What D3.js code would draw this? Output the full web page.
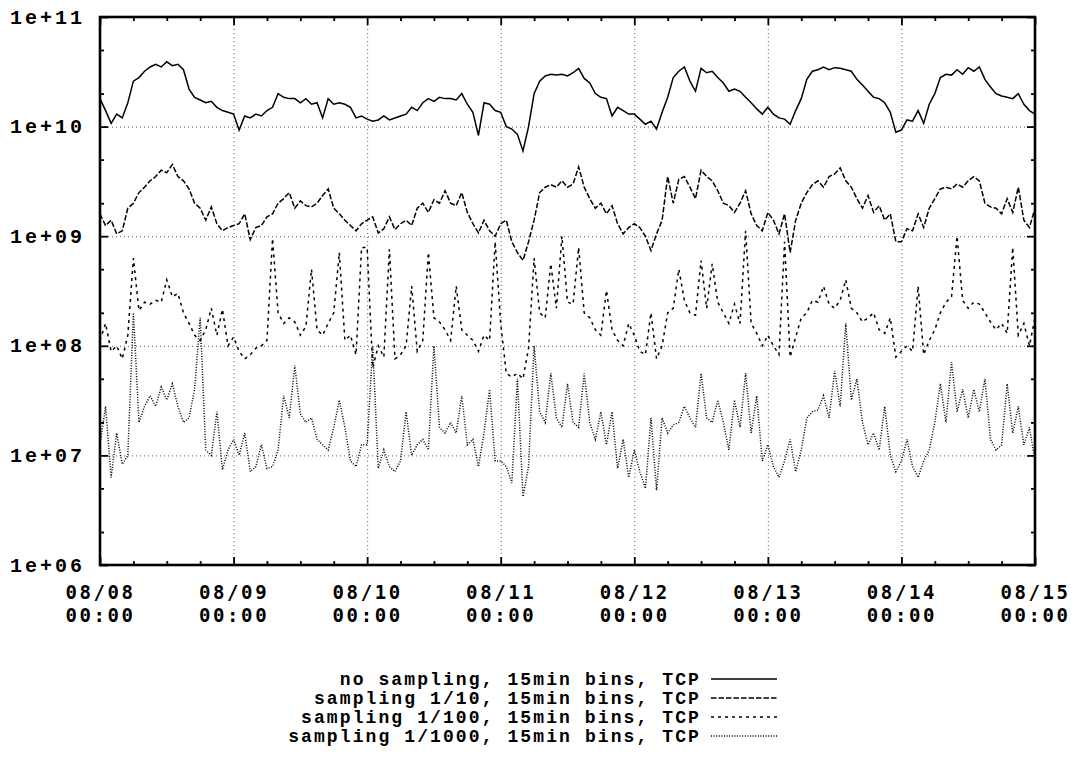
<!DOCTYPE html>
<html>
<head>
<meta charset="utf-8">
<script src="https://cdn.jsdelivr.net/npm/d3@7"></script>
<style>
  body { margin: 0; background: #fff; }
  svg text { font-family: "Liberation Mono", "Courier New", monospace; font-weight: bold; fill: #000; }
  .xlab text { font-family: "DejaVu Sans Mono", monospace; }
  .grid line { stroke: #606060; stroke-width: 1; stroke-dasharray: 1,3; }
  .grid .domain { display: none; }
  .ticks .domain { display: none; }
  .ticks line { stroke: #000; stroke-width: 1.8; }
</style>
</head>
<body>
<svg id="chart" width="1079" height="767"></svg>
<script>
// hourly samples, 08/08 00:00 .. 08/15 00:00
var startDate = Date.UTC(2008, 7, 8);
var dayLabels = ["08/08", "08/09", "08/10", "08/11", "08/12", "08/13", "08/14", "08/15"];
var timeLabel = "00:00";
var yTickValues = [1e6, 1e7, 1e8, 1e9, 1e10, 1e11];
var yTickLabels = ["1e+06", "1e+07", "1e+08", "1e+09", "1e+10", "1e+11"];
var seriesNames = [
  "no sampling, 15min bins, TCP",
  "sampling 1/10, 15min bins, TCP",
  "sampling 1/100, 15min bins, TCP",
  "sampling 1/1000, 15min bins, TCP"
];

var noSampling = [
  1.8e10,1.4e10,1.07e10,1.3e10,1.2e10,1.65e10,2.6e10,2.8e10,3.2e10,3.5e10,3.7e10,3.5e10,3.9e10,3.6e10,3.7e10,3.3e10,2.2e10,1.85e10,1.75e10,1.65e10,1.7e10,1.5e10,1.4e10,1.35e10,
  1.3e10,9.3e9,1.25e10,1.2e10,1.3e10,1.25e10,1.4e10,1.5e10,2.0e10,1.85e10,1.8e10,1.8e10,1.65e10,1.8e10,1.6e10,1.65e10,1.2e10,1.8e10,1.6e10,1.65e10,1.6e10,1.5e10,1.2e10,1.25e10,
  1.17e10,1.12e10,1.15e10,1.25e10,1.15e10,1.2e10,1.25e10,1.3e10,1.5e10,1.4e10,1.65e10,1.8e10,1.7e10,1.85e10,1.8e10,1.8e10,1.75e10,2.0e10,1.6e10,1.35e10,8.3e9,1.65e10,1.6e10,1.4e10,
  1.35e10,1.0e10,9.5e9,8.5e9,6.0e9,1.0e10,2.0e10,2.6e10,2.9e10,3.0e10,2.95e10,3.0e10,2.9e10,3.1e10,3.4e10,2.75e10,2.5e10,2.0e10,1.85e10,1.8e10,1.25e10,1.5e10,1.4e10,1.3e10,
  1.3e10,1.17e10,1.05e10,1.12e10,9.5e9,1.35e10,1.85e10,2.8e10,3.2e10,3.5e10,2.6e10,2.1e10,3.4e10,3.1e10,3.2e10,2.8e10,2.5e10,2.1e10,2.2e10,2.1e10,1.85e10,1.65e10,1.45e10,1.3e10,
  1.5e10,1.3e10,1.2e10,1.17e10,1.05e10,1.4e10,1.8e10,2.7e10,3.2e10,3.3e10,3.5e10,3.3e10,3.45e10,3.4e10,3.3e10,3.2e10,2.7e10,2.4e10,2.1e10,1.85e10,1.8e10,1.65e10,1.35e10,8.9e9,
  9.3e9,1.15e10,1.12e10,1.4e10,1.07e10,1.6e10,2.0e10,2.8e10,3.0e10,2.95e10,3.3e10,3.0e10,3.45e10,3.2e10,3.5e10,2.7e10,2.3e10,2.0e10,1.9e10,1.85e10,1.8e10,2.0e10,1.6e10,1.4e10,1.3e10
];
var sampling10 = [
  1.6e9,1.25e9,1.4e9,1.05e9,1.12e9,1.8e9,2.0e9,2.5e9,2.8e9,3.2e9,3.5e9,4.0e9,3.8e9,4.5e9,3.5e9,3.2e9,2.7e9,2.0e9,1.8e9,1.4e9,1.85e9,1.3e9,1.12e9,1.2e9,
  1.25e9,1.3e9,1.6e9,9.3e8,1.2e9,1.25e9,1.5e9,1.6e9,2.0e9,2.2e9,2.5e9,1.8e9,2.1e9,1.9e9,1.85e9,2.0e9,2.35e9,2.7e9,1.8e9,1.6e9,1.4e9,1.25e9,1.12e9,1.3e9,
  1.4e9,1.5e9,1.07e9,1.17e9,1.5e9,1.15e9,1.3e9,1.4e9,1.25e9,1.8e9,2.0e9,1.65e9,2.15e9,2.0e9,2.6e9,2.0e9,1.9e9,2.5e9,1.65e9,1.3e9,1.07e9,1.4e9,1.12e9,1.0e9,
  1.3e9,1.4e9,8.9e8,7.1e8,6.0e8,8.9e8,1.4e9,2.5e9,2.8e9,2.95e9,2.8e9,3.2e9,2.8e9,3.0e9,4.3e9,2.8e9,2.2e9,1.8e9,2.0e9,1.6e9,1.9e9,1.3e9,1.05e9,1.2e9,
  1.3e9,1.2e9,1.0e9,7.4e8,1.05e9,1.4e9,3.5e9,2.0e9,3.3e9,3.5e9,2.8e9,2.2e9,4.0e9,3.5e9,3.2e9,2.6e9,2.0e9,1.9e9,1.65e9,2.0e9,2.6e9,1.6e9,1.25e9,1.12e9,
  1.65e9,1.4e9,1.05e9,1.6e9,7.1e8,1.4e9,2.0e9,2.5e9,2.95e9,3.2e9,2.8e9,3.5e9,3.7e9,4.2e9,3.2e9,2.8e9,2.2e9,1.8e9,2.35e9,1.65e9,1.9e9,1.4e9,1.6e9,8.9e8,
  8.9e8,1.17e9,1.12e9,1.6e9,1.2e9,1.8e9,2.2e9,2.7e9,2.8e9,2.7e9,3.0e9,2.8e9,3.2e9,3.5e9,3.2e9,2.0e9,1.85e9,1.8e9,1.6e9,2.2e9,1.65e9,2.8e9,1.4e9,1.2e9,1.8e9
];
var sampling100 = [
  1.12e8,1.6e8,8.9e7,1.0e8,7.6e7,1.25e8,6.3e8,2.1e8,2.5e8,2.4e8,2.6e8,2.5e8,4.0e8,2.8e8,3.0e8,2.0e8,1.6e8,1.25e8,1.12e8,1.4e8,2.2e8,1.25e8,2.15e8,1.0e8,
  1.2e8,8.9e7,7.6e7,8.3e7,9.5e7,1.0e8,1.12e8,9.5e8,2.0e8,1.6e8,1.8e8,1.65e8,1.25e8,1.5e8,5.0e8,1.4e8,1.25e8,1.6e8,2.0e8,7.1e8,1.12e8,1.25e8,8.3e7,7.9e8,
  7.9e8,6.3e7,1.0e8,7.9e7,7.6e8,7.6e7,8.3e7,1.0e8,3.5e8,8.9e7,1.12e8,7.1e8,1.8e8,1.65e8,1.4e8,1.12e8,3.5e8,1.4e8,1.25e8,1.12e8,8.9e7,1.25e8,1.12e8,8.9e8,
  1.6e8,5.6e7,5.2e7,5.6e7,5.0e7,9.5e7,6.3e8,2.0e8,1.8e8,5.6e8,2.2e8,1.0e9,2.5e8,2.4e8,7.9e8,2.0e8,1.8e8,1.4e8,1.25e8,3.2e8,1.4e8,1.12e8,1.0e8,1.6e8,
  1.25e8,8.9e7,8.3e7,2.0e8,7.6e7,1.0e8,2.0e8,2.2e8,5.0e8,2.6e8,2.0e8,1.9e8,6.0e8,2.2e8,5.6e8,2.5e8,2.0e8,1.6e8,2.4e8,1.6e8,1.12e9,1.6e8,1.3e8,1.0e8,
  1.25e8,1.0e8,8.3e7,8.9e8,7.9e7,1.2e8,1.8e8,2.0e8,2.6e8,2.5e8,3.5e8,2.4e8,2.2e8,2.6e8,4.0e8,2.2e8,2.0e8,1.65e8,1.8e8,2.0e8,1.4e8,1.3e8,1.8e8,7.9e7,
  8.9e7,1.0e8,8.9e7,3.5e8,8.3e7,1.12e8,1.4e8,2.0e8,2.5e8,2.8e8,1.0e9,2.6e8,2.2e8,2.5e8,2.4e8,2.0e8,1.65e8,1.4e8,1.6e8,1.3e8,7.9e8,1.25e8,1.6e8,1.0e8,1.8e8
];
var sampling1000 = [
  1.25e7,2.8e7,6.3e6,1.6e7,8.3e6,1.0e7,2.0e8,2.0e7,2.8e7,3.5e7,2.8e7,4.2e7,3.2e7,4.5e7,2.8e7,2.0e7,2.2e7,4.0e7,1.8e8,1.12e7,1.0e7,2.5e7,7.4e6,1.12e7,
  1.4e7,1.0e7,1.6e7,7.1e6,7.9e6,1.25e7,7.6e6,7.9e6,1.12e7,3.5e7,2.2e7,6.6e7,2.4e7,2.0e7,2.2e7,1.4e7,1.25e7,1.12e7,1.8e7,3.2e7,1.8e7,8.9e6,7.9e6,1.25e7,
  1.25e7,1.0e8,7.6e6,1.12e7,7.9e6,7.1e6,8.9e6,2.5e7,1.0e7,1.25e7,1.4e7,1.12e7,1.0e8,1.8e7,1.6e7,2.0e7,1.6e7,3.5e7,1.25e7,1.4e7,7.9e6,1.6e7,4.0e7,8.9e6,
  8.9e6,7.9e6,5.6e6,5.0e7,4.2e6,7.9e6,1.0e8,2.5e7,2.0e7,5.6e7,2.2e7,1.8e7,4.5e7,2.0e7,1.8e7,5.6e7,2.0e7,1.4e7,2.5e7,1.25e7,2.5e7,7.6e6,1.4e7,6.3e6,
  1.12e7,7.1e6,5.0e6,2.2e7,4.8e6,2.2e7,1.6e7,1.9e7,2.0e7,2.8e7,2.2e7,1.8e7,5.6e7,2.2e7,2.0e7,3.2e7,2.0e7,1.12e7,3.2e7,1.8e7,5.6e7,1.6e7,3.5e7,8.9e6,
  1.25e7,7.9e6,6.3e6,8.9e6,1.4e7,7.1e6,1.12e7,2.2e7,2.5e7,2.6e7,3.5e7,2.2e7,5.9e7,2.8e7,1.6e8,3.2e7,5.0e7,2.0e7,1.25e7,1.6e7,1.12e7,2.8e7,1.0e7,7.1e6,
  8.9e6,1.4e7,7.9e6,6.3e6,8.9e6,1.12e7,2.0e7,4.5e7,2.0e7,7.1e7,2.5e7,4.0e7,2.2e7,4.0e7,2.5e7,5.0e7,1.4e7,1.12e7,1.25e7,4.5e7,1.6e7,2.8e7,1.25e7,1.8e7,8.9e6
];

var allSeries = [noSampling, sampling10, sampling100, sampling1000];
var dashes = ["none", "5.5,2", "3,4", "1,1.6"];

var margin = {top: 17, left: 100},
    width = 935,
    height = 548;

var svg = d3.select("#chart");
var g = svg.append("g").attr("transform", "translate(" + margin.left + "," + margin.top + ")");

var hour = 3600e3;
var x = d3.scaleUtc()
    .domain([new Date(startDate), new Date(startDate + 7 * 24 * hour)])
    .range([0, width]);
var y = d3.scaleLog().domain([1e6, 1e11]).range([height, 0]);

var dayTicks = dayLabels.map(function(d, i) { return new Date(startDate + i * 24 * hour); });
var sixHourTicks = d3.range(0, 7 * 24, 6).filter(function(h) { return h % 24 != 0; })
    .map(function(h) { return new Date(startDate + h * hour); });
var minorY = [];
yTickValues.slice(0, -1).forEach(function(v) { minorY.push(v * 2, v * 5); });

// grid
g.append("g").attr("class", "grid")
    .call(d3.axisBottom(x).tickValues(dayTicks.slice(1, -1)).tickSize(height).tickFormat(""));
g.append("g").attr("class", "grid")
    .call(d3.axisRight(y).tickValues(yTickValues.slice(1, -1)).tickSize(width).tickFormat(""));

// lines
svg.append("defs").append("clipPath").attr("id", "clip")
  .append("rect").attr("width", width).attr("height", height);

var line = d3.line()
    .x(function(d, i) { return x(new Date(startDate + i * hour)); })
    .y(function(d) { return y(d); });

var plot = g.append("g").attr("clip-path", "url(#clip)");
allSeries.forEach(function(s, k) {
  plot.append("path")
      .datum(s)
      .attr("fill", "none")
      .attr("stroke", "#000")
      .attr("stroke-width", 1.5)
      .attr("stroke-dasharray", dashes[k])
      .attr("d", line);
});

// ticks, mirrored on all four sides
var left = g.append("g").attr("class", "ticks")
    .call(d3.axisLeft(y).tickValues(yTickValues).tickSize(-8).tickPadding(15)
      .tickFormat(function(d, i) { return yTickLabels[i]; }));
left.selectAll("text").style("font-size", "20px").style("letter-spacing", "3px").attr("dy", "0.3em");
g.append("g").attr("class", "ticks")
    .call(d3.axisLeft(y).tickValues(minorY).tickSize(-4).tickFormat(""));
g.append("g").attr("class", "ticks").attr("transform", "translate(" + width + ",0)")
    .call(d3.axisRight(y).tickValues(yTickValues).tickSize(-8).tickFormat(""));
g.append("g").attr("class", "ticks").attr("transform", "translate(" + width + ",0)")
    .call(d3.axisRight(y).tickValues(minorY).tickSize(-4).tickFormat(""));

var bottom = g.append("g").attr("class", "ticks xlab").attr("transform", "translate(0," + height + ")")
    .call(d3.axisBottom(x).tickValues(dayTicks).tickSize(-8)
      .tickFormat(function(d, i) { return dayLabels[i]; }));
bottom.selectAll(".tick text").each(function(d, i) {
  var t = d3.select(this).text(null).attr("y", null).attr("dy", null)
      .style("font-size", "19px").style("letter-spacing", "2.6px");
  t.append("tspan").attr("x", 0).attr("y", 34).text(dayLabels[i]);
  t.append("tspan").attr("x", 0).attr("y", 57).text(timeLabel);
});
g.append("g").attr("class", "ticks").attr("transform", "translate(0," + height + ")")
    .call(d3.axisBottom(x).tickValues(sixHourTicks).tickSize(-4).tickFormat(""));
g.append("g").attr("class", "ticks")
    .call(d3.axisTop(x).tickValues(dayTicks).tickSize(-8).tickFormat(""));
g.append("g").attr("class", "ticks")
    .call(d3.axisTop(x).tickValues(sixHourTicks).tickSize(-4).tickFormat(""));

// frame
g.append("rect")
    .attr("width", width)
    .attr("height", height)
    .attr("fill", "none")
    .attr("stroke", "#000")
    .attr("stroke-width", 2.6);

// legend
var legend = svg.append("g").attr("transform", "translate(0,679)");
seriesNames.forEach(function(name, k) {
  var row = legend.append("g").attr("transform", "translate(0," + (k * 19) + ")");
  row.append("text")
      .attr("x", 701)
      .attr("y", 6)
      .attr("text-anchor", "end")
      .style("font-size", "18px")
      .style("letter-spacing", "2.1px")
      .text(name);
  row.append("line")
      .attr("x1", 711).attr("x2", 777)
      .attr("y1", 0).attr("y2", 0)
      .attr("stroke", "#000")
      .attr("stroke-width", 1.4)
      .attr("stroke-dasharray", dashes[k]);
});
</script>
</body>
</html>
